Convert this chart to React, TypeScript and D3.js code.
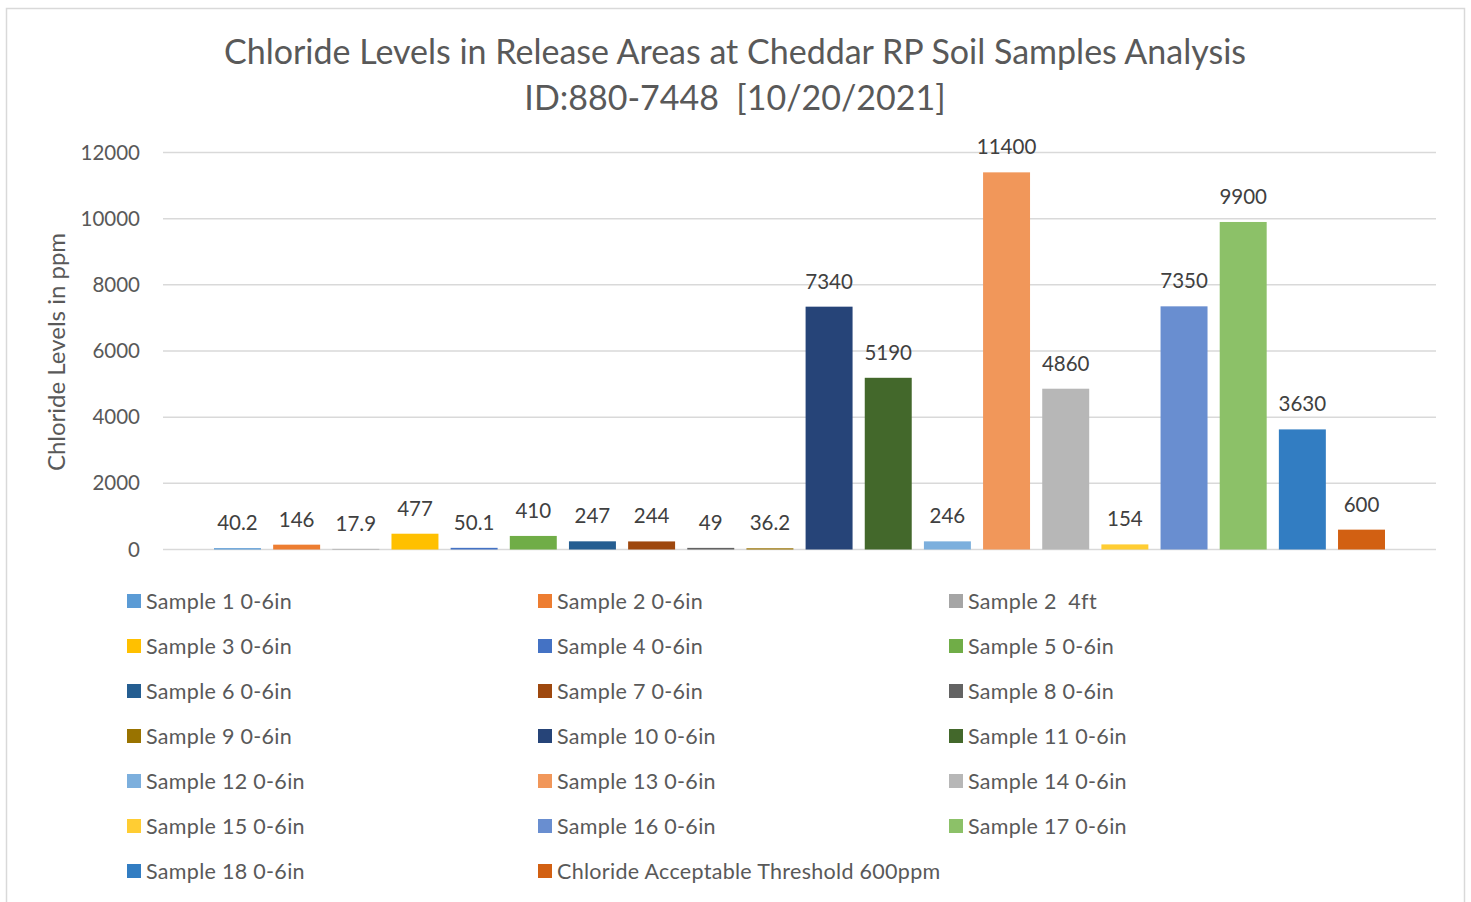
import React, { useEffect } from 'react';
import * as d3 from 'd3';

// --- chart data ---
const seriesNames = [
  'Sample 1 0-6in', 'Sample 2 0-6in', 'Sample 2  4ft', 'Sample 3 0-6in', 'Sample 4 0-6in',
  'Sample 5 0-6in', 'Sample 6 0-6in', 'Sample 7 0-6in', 'Sample 8 0-6in', 'Sample 9 0-6in',
  'Sample 10 0-6in', 'Sample 11 0-6in', 'Sample 12 0-6in', 'Sample 13 0-6in', 'Sample 14 0-6in',
  'Sample 15 0-6in', 'Sample 16 0-6in', 'Sample 17 0-6in', 'Sample 18 0-6in',
  'Chloride Acceptable Threshold 600ppm',
];
const seriesValues = [40.2, 146, 17.9, 477, 50.1, 410, 247, 244, 49, 36.2, 7340, 5190, 246, 11400, 4860, 154, 7350, 9900, 3630, 600];
const seriesColors = [
  '#5B9BD5', '#ED7D31', '#A5A5A5', '#FFC000', '#4472C4', '#70AD47', '#255E91', '#9E480E', '#636363', '#997300',
  '#264478', '#43682B', '#7CAFDD', '#F1975A', '#B7B7B7', '#FFCD33', '#698ED0', '#8CC168', '#327DC2', '#D26012',
];
const yTicks = [0, 2000, 4000, 6000, 8000, 10000, 12000];
const titleLines = ['Chloride Levels in Release Areas at Cheddar RP Soil Samples Analysis', 'ID:880-7448  [10/20/2021]'];
const yAxisTitle = 'Chloride Levels in ppm';

const W = 1471;
const H = 902;
const FONT = 'Lato, "Open Sans", sans-serif';

export default function App() {
  useEffect(() => {
    document.body.style.margin = '0';
  }, []);

  const y = d3.scaleLinear().domain([0, 12000]).range([549.5, 152.5]);
  const x = d3.scaleBand<string>().domain(seriesNames).range([214, 1385]).paddingInner(0.206).paddingOuter(0);
  const gridX0 = 163;
  const gridX1 = 1436;

  const legendCols = [127, 538, 949];
  const legendRowY = d3.scaleLinear().domain([0, 1]).range([601, 646]);

  return (
    <svg width={W} height={H} style={{ display: 'block', background: '#fff' }} fontFamily={FONT}>
      <rect x={6.5} y={8.5} width={1458} height={H + 10} fill="#fff" stroke="#D9D9D9" strokeWidth={1.5} />

      {titleLines.map((t, i) => (
        <text key={t} x={735} y={64 + i * 46} textAnchor="middle" fontSize={34} fill="#595959" style={{ whiteSpace: 'pre' }}>
          {t}
        </text>
      ))}

      {yTicks.map(t => (
        <g key={t}>
          <line x1={gridX0} x2={gridX1} y1={y(t)} y2={y(t)} stroke="#D9D9D9" strokeWidth={1.5} />
          <text x={140} y={y(t) + 7} textAnchor="end" fontSize={20.5} fill="#595959">{t}</text>
        </g>
      ))}

      <text transform={`translate(65,352) rotate(-90)`} textAnchor="middle" fontSize={24} fill="#595959">
        {yAxisTitle}
      </text>

      {seriesNames.map((name, i) => {
        const v = seriesValues[i];
        const bx = x(name) as number;
        const top = y(v);
        return (
          <g key={name}>
            <rect x={bx} y={top} width={x.bandwidth()} height={y(0) - top} fill={seriesColors[i]} />
            <text x={bx + x.bandwidth() / 2} y={top - 18} textAnchor="middle" fontSize={20.5} fill="#404040">
              {v}
            </text>
          </g>
        );
      })}

      {seriesNames.map((name, i) => {
        const col = i % 3;
        const row = Math.floor(i / 3);
        const cy = legendRowY(row);
        return (
          <g key={'lg' + name}>
            <rect x={legendCols[col]} y={cy - 7} width={14} height={14} fill={seriesColors[i]} />
            <text x={legendCols[col] + 19} y={cy + 7.5} fontSize={21.5} letterSpacing={0.3} fill="#595959" style={{ whiteSpace: 'pre' }}>
              {name}
            </text>
          </g>
        );
      })}
    </svg>
  );
}
